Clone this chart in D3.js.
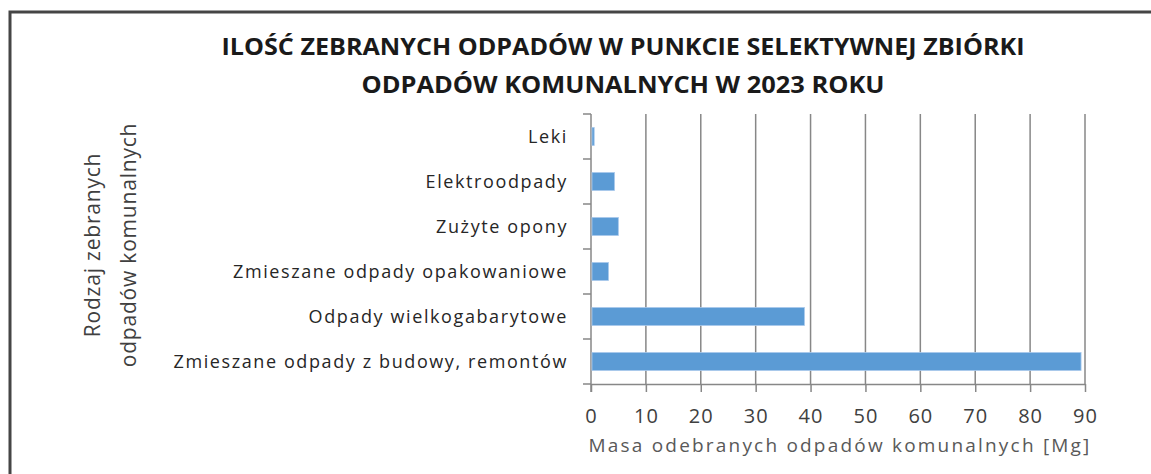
<!DOCTYPE html>
<html>
<head>
<meta charset="utf-8">
<script src="https://d3js.org/d3.v7.min.js"></script>
<style>
  body { margin: 0; background: #fff; }
  text { font-family: "Open Sans", "DejaVu Sans Condensed", sans-serif; }
</style>
</head>
<body>
<div id="chart"></div>
<script>
  // dane z wykresu
  var categories = [
    "Leki",
    "Elektroodpady",
    "Zużyte opony",
    "Zmieszane odpady opakowaniowe",
    "Odpady wielkogabarytowe",
    "Zmieszane odpady z budowy, remontów"
  ];
  var values = [0.4, 4.1, 4.8, 3.0, 38.7, 89.1];
  var xTicks = [0, 10, 20, 30, 40, 50, 60, 70, 80, 90];
  var titleLines = [
    "ILOŚĆ ZEBRANYCH ODPADÓW W PUNKCIE SELEKTYWNEJ ZBIÓRKI",
    "ODPADÓW KOMUNALNYCH W 2023 ROKU"
  ];
  var yTitleLines = ["Rodzaj zebranych", "odpadów komunalnych"];
  var xTitle = "Masa odebranych odpadów komunalnych [Mg]";

  var W = 1151, H = 474;
  var plot = { left: 591, right: 1085, top: 114, bottom: 384 };
  var gridColor = "#878787";
  var textColor = "#404040";

  var svg = d3.select("#chart").append("svg")
    .attr("width", W)
    .attr("height", H);

  // ramka
  svg.append("rect")
    .attr("x", 10).attr("y", 12)
    .attr("width", W + 20).attr("height", H + 20)
    .attr("fill", "none")
    .attr("stroke", "#454545")
    .attr("stroke-width", 3);

  var x = d3.scaleLinear()
    .domain([0, 90])
    .range([plot.left, plot.right]);

  var y = d3.scaleBand()
    .domain(categories)
    .range([plot.top, plot.bottom])
    .paddingInner(0.6)
    .paddingOuter(0.3);

  // siatka
  svg.append("g")
    .selectAll("line")
    .data(xTicks.slice(1))
    .enter().append("line")
    .attr("x1", function(d) { return x(d); })
    .attr("x2", function(d) { return x(d); })
    .attr("y1", plot.top)
    .attr("y2", plot.bottom)
    .attr("stroke", gridColor)
    .attr("stroke-width", 1.5);

  // os X
  var xAxis = d3.axisBottom(x)
    .tickValues(xTicks)
    .tickSize(8)
    .tickPadding(17)
    .tickSizeOuter(0);

  var gX = svg.append("g")
    .attr("transform", "translate(0," + plot.bottom + ")")
    .call(xAxis);
  gX.select(".domain").attr("stroke", gridColor).attr("stroke-width", 1.5);
  gX.selectAll(".tick line").attr("stroke", gridColor).attr("stroke-width", 1.5);
  gX.selectAll(".tick text")
    .attr("font-size", 20)
    .attr("letter-spacing", 1)
    .attr("fill", textColor)
    .attr("font-family", "'Open Sans', sans-serif");

  // os Y
  var boundaries = d3.range(categories.length + 1).map(function(i) {
    return plot.top + i * y.step();
  });
  var gY = svg.append("g");
  gY.append("line")
    .attr("x1", plot.left).attr("x2", plot.left)
    .attr("y1", plot.top).attr("y2", plot.bottom + 8)
    .attr("stroke", gridColor).attr("stroke-width", 1.5);
  gY.selectAll(".yt")
    .data(boundaries)
    .enter().append("line")
    .attr("class", "yt")
    .attr("x1", plot.left - 8).attr("x2", plot.left)
    .attr("y1", function(d) { return d; })
    .attr("y2", function(d) { return d; })
    .attr("stroke", gridColor).attr("stroke-width", 1.5);
  gY.selectAll(".yl")
    .data(categories)
    .enter().append("text")
    .attr("class", "yl")
    .attr("x", 568)
    .attr("y", function(d) { return y(d) + y.bandwidth() / 2; })
    .attr("dy", "0.35em")
    .attr("text-anchor", "end")
    .attr("font-size", 18)
    .attr("letter-spacing", 1.6)
    .attr("fill", "#262626")
    .text(function(d) { return d; });

  // slupki
  svg.append("g")
    .selectAll("rect")
    .data(values)
    .enter().append("rect")
    .attr("x", x(0) + 1)
    .attr("y", function(d, i) { return y(categories[i]); })
    .attr("width", function(d) { return x(d) - x(0); })
    .attr("height", y.bandwidth())
    .attr("fill", "#5b9bd5")
    .attr("stroke", "#a8c9ec")
    .attr("stroke-width", 0.8);

  // tytul
  var titleWidths = [803, 523];
  svg.append("g")
    .selectAll("text")
    .data(titleLines)
    .enter().append("text")
    .attr("x", 623)
    .attr("y", function(d, i) { return 55 + i * 38; })
    .attr("text-anchor", "middle")
    .attr("font-size", 24)
    .attr("font-weight", "bold")
    .attr("font-family", "'DejaVu Sans Condensed', 'Open Sans', sans-serif")
    .attr("fill", "#1a1a1a")
    .attr("textLength", function(d, i) { return titleWidths[i]; })
    .attr("lengthAdjust", "spacingAndGlyphs")
    .text(function(d) { return d; });

  // tytul osi X
  svg.append("text")
    .attr("x", (plot.left + plot.right) / 2 + 2)
    .attr("y", 452)
    .attr("text-anchor", "middle")
    .attr("font-size", 19)
    .attr("letter-spacing", 2.2)
    .attr("fill", "#595959")
    .text(xTitle);

  // tytul osi Y
  svg.append("g")
    .attr("transform", "translate(100,245) rotate(-90)")
    .selectAll("text")
    .data(yTitleLines)
    .enter().append("text")
    .attr("x", 0)
    .attr("y", function(d, i) { return i * 36; })
    .attr("text-anchor", "middle")
    .attr("font-size", 21)
    .attr("letter-spacing", 0.8)
    .attr("fill", textColor)
    .text(function(d) { return d; });
</script>
</body>
</html>
